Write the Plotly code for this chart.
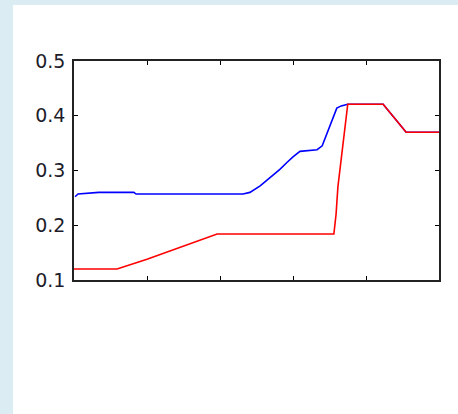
import plotly.graph_objects as go

blue_x = [0.3, 1.1, 6.8, 16.4, 17.0, 46.3, 48.2, 51.0, 53.7, 56.4, 58.4, 60.0, 61.9, 66.6, 68.0, 69.3, 71.0, 72.0, 73.2, 75.0, 84.7, 91.0, 100.0]
blue_y = [0.252, 0.257, 0.260, 0.260, 0.257, 0.257, 0.260, 0.272, 0.287, 0.302, 0.315, 0.325, 0.335, 0.338, 0.345, 0.368, 0.397, 0.414, 0.418, 0.421, 0.421, 0.370, 0.370]

red_x = [0.0, 11.8, 20.0, 29.0, 39.2, 71.2, 71.8, 72.3, 73.2, 74.2, 75.0, 84.7, 91.0, 100.0]
red_y = [0.120, 0.120, 0.138, 0.160, 0.184, 0.184, 0.220, 0.270, 0.320, 0.373, 0.421, 0.421, 0.370, 0.370]

y_ticks = [0.1, 0.2, 0.3, 0.4, 0.5]
x_ticks = [0, 20, 40, 60, 80, 100]

fig = go.Figure()
fig.add_trace(go.Scatter(x=blue_x, y=blue_y, mode="lines",
                         line=dict(color="#0000ff", width=1.6), showlegend=False))
fig.add_trace(go.Scatter(x=red_x, y=red_y, mode="lines",
                         line=dict(color="#ff0000", width=1.6), showlegend=False))

fig.add_shape(type="rect", xref="paper", yref="paper",
              x0=-0.167, x1=1.06, y0=-0.62, y1=1.256,
              fillcolor="white", line=dict(width=0), layer="below")

fig.update_layout(
    width=458, height=414,
    margin=dict(l=74, r=19, t=61, b=134),
    paper_bgcolor="#dbecf3",
    plot_bgcolor="white",
    font=dict(family="DejaVu Sans, Arial, sans-serif", size=19, color="#1c1c2a"),
    xaxis=dict(range=[0, 100], tickvals=x_ticks, showticklabels=False,
               ticks="inside", ticklen=4, tickcolor="black", tickwidth=1.2,
               showline=True, linecolor="#222222", linewidth=1.6, mirror="ticks",
               showgrid=False, zeroline=False),
    yaxis=dict(range=[0.1, 0.5], tickvals=y_ticks, tickformat=".1f",
               ticks="inside", ticklen=4, tickcolor="black", tickwidth=1.2,
               showline=True, linecolor="#222222", linewidth=1.6, mirror="ticks",
               showgrid=False, zeroline=False, ticklabelstandoff=3),
)

fig.write_html("out.html", config={"displayModeBar": False},
               post_script="document.body.style.margin='0';document.body.style.background='#dbecf3';")
